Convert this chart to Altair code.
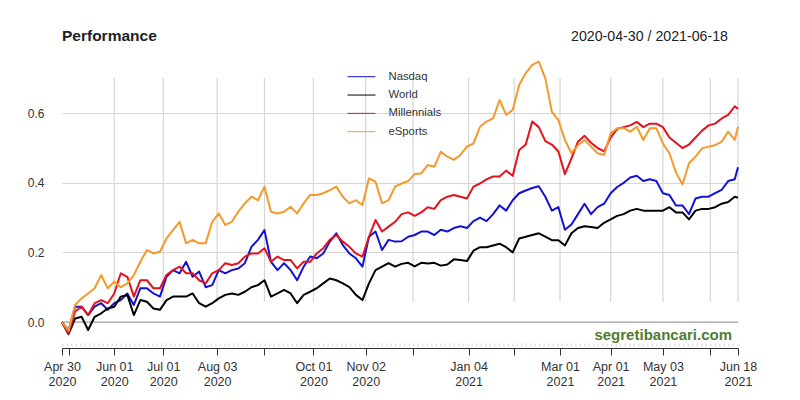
import altair as alt
import pandas as pd

START = "2020-04-30"
# sampling grid: calendar days after the start date
sample_days = list(range(0, 413, 4)) + [414]

series_names = ["Nasdaq", "World", "Millennials", "eSports"]
series_colors = ["#1212d4", "#000000", "#e3121c", "#f29a2c"]

nasdaq = [
    0.0, -0.025, 0.044, 0.044, 0.020, 0.044, 0.054, 0.035, 0.054, 0.063,
    0.082, 0.049, 0.097, 0.097, 0.082, 0.073, 0.130, 0.149, 0.140, 0.173,
    0.130, 0.145, 0.100, 0.106, 0.149, 0.140, 0.149, 0.154, 0.169, 0.216,
    0.236, 0.264, 0.173, 0.149, 0.169, 0.149, 0.120, 0.159, 0.188, 0.183,
    0.197, 0.231, 0.255, 0.221, 0.197, 0.183, 0.159, 0.245, 0.260, 0.207,
    0.236, 0.231, 0.232, 0.245, 0.250, 0.260, 0.260, 0.250, 0.265, 0.260,
    0.270, 0.275, 0.270, 0.290, 0.300, 0.290, 0.310, 0.335, 0.320, 0.350,
    0.370, 0.378, 0.385, 0.390, 0.360, 0.320, 0.330, 0.265, 0.280, 0.310,
    0.340, 0.310, 0.330, 0.340, 0.370, 0.388, 0.400, 0.415, 0.420, 0.405,
    0.410, 0.405, 0.370, 0.365, 0.335, 0.335, 0.310, 0.355, 0.360, 0.360,
    0.370, 0.380, 0.405, 0.410, 0.445,
]
world = [
    0.0, -0.035, 0.010, 0.015, -0.023, 0.015, 0.025, 0.039, 0.044, 0.073,
    0.078, 0.020, 0.063, 0.058, 0.039, 0.035, 0.063, 0.073, 0.073, 0.073,
    0.082, 0.054, 0.044, 0.054, 0.068, 0.078, 0.082, 0.078, 0.087, 0.100,
    0.106, 0.120, 0.073, 0.082, 0.092, 0.082, 0.054, 0.078, 0.087, 0.097,
    0.111, 0.125, 0.120, 0.111, 0.100, 0.078, 0.063, 0.111, 0.149, 0.159,
    0.169, 0.159, 0.167, 0.170, 0.160, 0.170, 0.168, 0.170, 0.162, 0.165,
    0.180, 0.178, 0.175, 0.205, 0.215, 0.215, 0.220, 0.225, 0.215, 0.200,
    0.240, 0.245, 0.250, 0.255, 0.245, 0.235, 0.235, 0.220, 0.255, 0.270,
    0.275, 0.273, 0.270, 0.285, 0.295, 0.305, 0.310, 0.320, 0.325, 0.320,
    0.320, 0.320, 0.320, 0.330, 0.315, 0.315, 0.295, 0.320, 0.325, 0.325,
    0.330, 0.340, 0.345, 0.360, 0.357,
]
millennials = [
    0.0, -0.033, 0.030, 0.044, 0.020, 0.054, 0.063, 0.054, 0.082, 0.140,
    0.130, 0.073, 0.120, 0.120, 0.097, 0.097, 0.135, 0.149, 0.159, 0.140,
    0.140, 0.120, 0.111, 0.140, 0.149, 0.169, 0.164, 0.169, 0.188, 0.197,
    0.197, 0.212, 0.173, 0.188, 0.178, 0.178, 0.154, 0.173, 0.173, 0.197,
    0.212, 0.236, 0.250, 0.231, 0.216, 0.197, 0.188, 0.245, 0.293, 0.260,
    0.274, 0.288, 0.310, 0.315, 0.305, 0.315, 0.330, 0.325, 0.350, 0.360,
    0.365, 0.360, 0.355, 0.389, 0.398, 0.410, 0.418, 0.418, 0.435, 0.420,
    0.494, 0.510, 0.576, 0.560, 0.520, 0.510, 0.490, 0.425, 0.470, 0.518,
    0.535, 0.515, 0.500, 0.490, 0.530, 0.555, 0.560, 0.565, 0.575, 0.560,
    0.570, 0.570, 0.560, 0.530, 0.515, 0.500, 0.510, 0.530, 0.550, 0.565,
    0.570, 0.585, 0.595, 0.620, 0.612,
]
esports = [
    0.0, -0.025, 0.049, 0.068, 0.082, 0.097, 0.135, 0.097, 0.116, 0.100,
    0.111, 0.135, 0.173, 0.207, 0.197, 0.202, 0.240, 0.264, 0.288, 0.226,
    0.236, 0.226, 0.226, 0.288, 0.312, 0.279, 0.288, 0.317, 0.341, 0.360,
    0.350, 0.389, 0.317, 0.312, 0.317, 0.331, 0.312, 0.341, 0.365, 0.365,
    0.370, 0.379, 0.389, 0.360, 0.341, 0.350, 0.336, 0.413, 0.403, 0.341,
    0.350, 0.389, 0.398, 0.405, 0.425, 0.427, 0.451, 0.446, 0.489, 0.475,
    0.466, 0.480, 0.504, 0.513, 0.561, 0.576, 0.585, 0.638, 0.595, 0.609,
    0.681, 0.715, 0.739, 0.748, 0.700, 0.604, 0.580, 0.523, 0.485, 0.508,
    0.523, 0.504, 0.485, 0.480, 0.542, 0.557, 0.557, 0.547, 0.561, 0.523,
    0.557, 0.557, 0.513, 0.485, 0.430, 0.395, 0.456, 0.475, 0.499, 0.504,
    0.508, 0.518, 0.547, 0.523, 0.561,
]

tick_dates = ["2020-04-30", "2020-05-04", "2020-06-01", "2020-07-01", "2020-08-03",
              "2020-09-01", "2020-10-01", "2020-11-02", "2020-12-01", "2021-01-04",
              "2021-02-01", "2021-03-01", "2021-04-01", "2021-05-03", "2021-06-01",
              "2021-06-18"]
labeled_dates = ["2020-04-30", "2020-06-01", "2020-07-01", "2020-08-03", "2020-10-01",
                 "2020-11-02", "2021-01-04", "2021-03-01", "2021-04-01", "2021-05-03",
                 "2021-06-18"]
grid_dates = tick_dates[2:]
y_ticks = [0.0, 0.2, 0.4, 0.6]

title_text = "Performance"
range_text = "2020-04-30 / 2021-06-18"
watermark_text = "segretibancari.com"

FONT = "Liberation Sans"

# ---------- data table ----------
dates = (pd.Timestamp(START) + pd.to_timedelta(sample_days, unit="D")).strftime("%Y-%m-%d")
frames = []
for name, vals in zip(series_names, [nasdaq, world, millennials, esports]):
    frames.append(pd.DataFrame({"date": dates, "value": vals, "series": name}))
df = pd.concat(frames, ignore_index=True)


def dt(s):
    y, m, d = (int(p) for p in s.split("-"))
    return alt.DateTime(year=y, month=m, date=d, utc=True)


x_scale = alt.Scale(type="utc", domain=[dt(tick_dates[0]), dt(tick_dates[-1])])
y_scale = alt.Scale(domain=[-0.0747, 0.7816], nice=False, zero=False)
color_scale = alt.Scale(domain=series_names, range=series_colors)

lab_list = ",".join("'%s'" % d for d in labeled_dates)
label_expr = ("indexof([%s], utcFormat(datum.value, '%%Y-%%m-%%d')) >= 0 ? "
              "[utcFormat(datum.value, '%%b %%d'), utcFormat(datum.value, '%%Y')] : ''" % lab_list)

x_axis = alt.Axis(values=[dt(d) for d in tick_dates], labelExpr=label_expr,
                  labelOverlap=False, labelFlush=False, grid=False,
                  domain=True, domainColor="#333333", domainWidth=1,
                  ticks=True, tickColor="#333333", tickSize=7, tickWidth=1,
                  labelPadding=5, labelFontSize=12.5, labelLineHeight=15,
                  labelColor="#333333", labelFont=FONT, title=None)
y_axis = alt.Axis(values=y_ticks, format=".1f", grid=True, gridColor="#d6d6d6",
                  gridWidth=1.2, domain=False, ticks=False, labelPadding=18,
                  labelFontSize=12, labelColor="#333333", labelFont=FONT, title=None)

lines = alt.Chart(df).mark_line(strokeWidth=2, strokeJoin="round").encode(
    x=alt.X("date:T", scale=x_scale, axis=x_axis),
    y=alt.Y("value:Q", scale=y_scale, axis=y_axis),
    color=alt.Color("series:N", scale=color_scale, legend=None),
)

vgrid = alt.Chart(pd.DataFrame({"date": grid_dates})).mark_rule(
    color="#d6d6d6", strokeWidth=1.2).encode(
    x=alt.X("date:T", scale=x_scale), y=alt.value(28), y2=alt.value(252))

zero = alt.Chart(pd.DataFrame({"v": [0.0]})).mark_rule(
    color="#9a9a9a", strokeWidth=1.2).encode(y=alt.Y("v:Q", scale=y_scale))

band = alt.Chart(pd.DataFrame({"v": [0]})).mark_rule(
    color="#e2e2e2", strokeWidth=3, strokeDash=[1.5, 3]).encode(
    x=alt.value(0), x2=alt.value(676), y=alt.value(295))

one = pd.DataFrame({"t": [0]})
title_mark = alt.Chart(one).mark_text(
    text=title_text, align="left", baseline="alphabetic", fontSize=15.5,
    fontWeight="bold", color="#222222", font=FONT).encode(
    x=alt.value(0), y=alt.value(-9))
range_mark = alt.Chart(one).mark_text(
    text=range_text, align="right", baseline="alphabetic", fontSize=14.2,
    color="#222222", font=FONT).encode(x=alt.value(666), y=alt.value(-9))
water = alt.Chart(one).mark_text(
    text=watermark_text, align="right", baseline="alphabetic", fontSize=15,
    fontWeight="bold", color="#4e7d2e", font=FONT).encode(
    x=alt.value(670), y=alt.value(290))

main = alt.layer(vgrid, zero, band, lines, water, title_mark, range_mark)

leg_df = pd.DataFrame({"series": series_names})
leg_y = alt.Y("series:N", axis=None,
              scale=alt.Scale(type="point", domain=series_names, range=[26.7, 81.7], padding=0))
leg_rule = alt.Chart(leg_df).mark_rule(strokeWidth=1).encode(
    y=leg_y, x=alt.value(285.5), x2=alt.value(313.5),
    color=alt.Color("series:N", scale=color_scale, legend=None))
leg_text = alt.Chart(leg_df).mark_text(
    align="left", baseline="middle", fontSize=11.3, color="#333333", font=FONT).encode(
    y=leg_y, x=alt.value(326.5), text="series:N")
legend = alt.layer(leg_rule, leg_text)

chart = alt.layer(main, legend).resolve_scale(y="independent").properties(
    width=676, height=298,
    autosize=alt.AutoSizeParams(type="none"),
    padding={"left": 54, "top": 42, "right": 54, "bottom": 44},
    background="white",
).configure_view(stroke=None)

chart.save("out.html", embed_options={"renderer": "svg", "actions": False})
